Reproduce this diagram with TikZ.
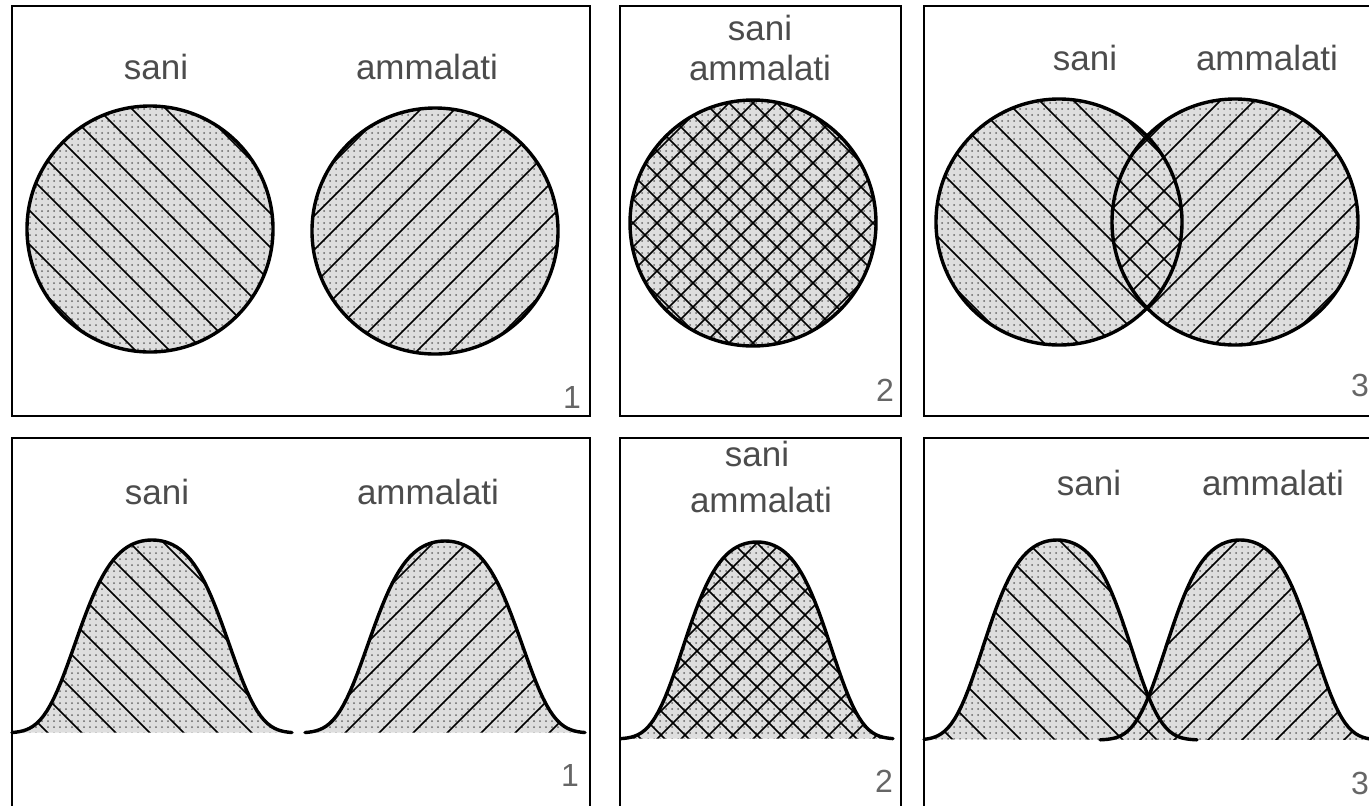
\documentclass[tikz,border=0pt]{standalone}
\usepackage{fontspec}
\setmainfont{Liberation Sans}
\usetikzlibrary{patterns}
\definecolor{labelgray}{gray}{0.30}
\definecolor{numgray}{gray}{0.40}
\definecolor{stipplebg}{gray}{0.87}
\definecolor{stippledot}{gray}{0.40}
\tikzset{
  panelframe/.style = {draw=black, line width=1.1pt},
  grouplab/.style   = {font=\fontsize{17.5}{20}\selectfont, text=labelgray,
                       inner sep=0pt},
  panelnum/.style   = {font=\fontsize{16}{19}\selectfont, text=numgray,
                       inner sep=0pt},
  stipple/.style    = {preaction={fill=stipplebg}, pattern=dots,
                       pattern color=stippledot},
  hatch/.style      = {draw=black, line width=0.75pt},
  rim/.style        = {draw=black, line width=1.7pt, line join=round,
                       line cap=round},
}
\tikzset{declare function={
  bell(\t,\s) = exp(-(\t/\s)*(\t/\s)/2.72 - ((\t/\s)*(\t/\s)/1.277)^2);}}

\begin{document}
\begin{tikzpicture}[x=0.5pt, y=-0.5pt]
  \useasboundingbox (0,0) rectangle (1369,805);
  \clip (0,0) rectangle (1369,805);

  % frames
  \draw[panelframe] (12,6) rectangle (590,416);
  \draw[panelframe] (620,6) rectangle (901,416);
  \draw[panelframe] (924,6) rectangle (1390,416);
  \foreach \xl/\xr in {12/590, 620/901, 924/1390}
    {\draw[panelframe] (\xl,820) -- (\xl,438) -- (\xr,438) -- (\xr,820);}

  % top row: circles
  \foreach \cx/\cy in {150/229, 435/231, 753/223, 1059/222, 1235/222}
    {\path[stipple] (\cx,\cy) circle[radius=123];}
  \foreach \cx/\cy/\dir/\gap in {150/229/1/34, 435/231/-1/34, 753/223/1/24,
                                 753/223/-1/24, 1059/222/1/34, 1235/222/-1/34}
  {
    \begin{scope}
      \clip (\cx,\cy) circle[radius=123];
      \foreach \k in {-8,...,8}
        {\draw[hatch] ({\cx+\k*\gap-200},{\cy-200*\dir}) -- ++(400,{400*\dir});}
    \end{scope}
  }
  \foreach \cx/\cy in {150/229, 435/231, 753/223, 1059/222, 1235/222}
    {\draw[rim] (\cx,\cy) circle[radius=123];}

  % bottom row: bell curves
  \foreach \cx/\base/\ht/\s/\lo/\hi in {152/733/193/83/-140/140,
      445/733/192/83/-140/140, 757/739/197/80/-136/136,
      1057/740/200/80/-133/140, 1240/740/200/80/-140/140}
    {\path[stipple] plot[domain=\lo:\hi, samples=81]
       ({\cx+\x},{\base-\ht*bell(\x,\s)}) -- cycle;}
  \foreach \cx/\base/\ht/\s/\lo/\hi/\dir/\gap in {152/733/193/83/-140/140/1/34,
      445/733/192/83/-140/140/-1/34, 757/739/197/80/-136/136/1/24,
      757/739/197/80/-136/136/-1/24, 1057/740/200/80/-133/140/1/34,
      1240/740/200/80/-140/140/-1/34}
  {
    \begin{scope}
      \clip plot[domain=\lo:\hi, samples=81]
        ({\cx+\x},{\base-\ht*bell(\x,\s)}) -- cycle;
      \foreach \k in {-9,...,9}
        {\draw[hatch] ({\cx+\k*\gap-250},{\base-100-250*\dir}) -- ++(500,{500*\dir});}
    \end{scope}
  }
  \foreach \cx/\base/\ht/\s/\lo/\hi in {152/733/193/83/-140/140,
      445/733/192/83/-140/140, 757/739/197/80/-136/136,
      1057/740/200/80/-133/140, 1240/740/200/80/-140/140}
    {\draw[rim] plot[domain=\lo:\hi, samples=81]
       ({\cx+\x},{\base-\ht*bell(\x,\s)});}

  % labels
  \node[grouplab] (saniTa) at (156,67)  {sani};
  \node[grouplab] (ammTa)  at (427,67)  {ammalati};
  \node[grouplab] (saniTb) at (760,28)  {sani};
  \node[grouplab] (ammTb)  at (760,68)  {ammalati};
  \node[grouplab] (saniTc) at (1085,58) {sani};
  \node[grouplab] (ammTc)  at (1267,58) {ammalati};
  \node[grouplab] (saniBa) at (157,492) {sani};
  \node[grouplab] (ammBa)  at (428,492) {ammalati};
  \node[grouplab] (saniBb) at (757,454) {sani};
  \node[grouplab] (ammBb)  at (761,500) {ammalati};
  \node[grouplab] (saniBc) at (1089,483) {sani};
  \node[grouplab] (ammBc)  at (1273,483) {ammalati};

  % panel numbers
  \node[panelnum] (numTa) at (572,397)  {1};
  \node[panelnum] (numTb) at (885,390)  {2};
  \node[panelnum] (numTc) at (1360,385) {3};
  \node[panelnum] (numBa) at (570,775)  {1};
  \node[panelnum] (numBb) at (884,781)  {2};
  \node[panelnum] (numBc) at (1360,783) {3};
\end{tikzpicture}
\end{document}
